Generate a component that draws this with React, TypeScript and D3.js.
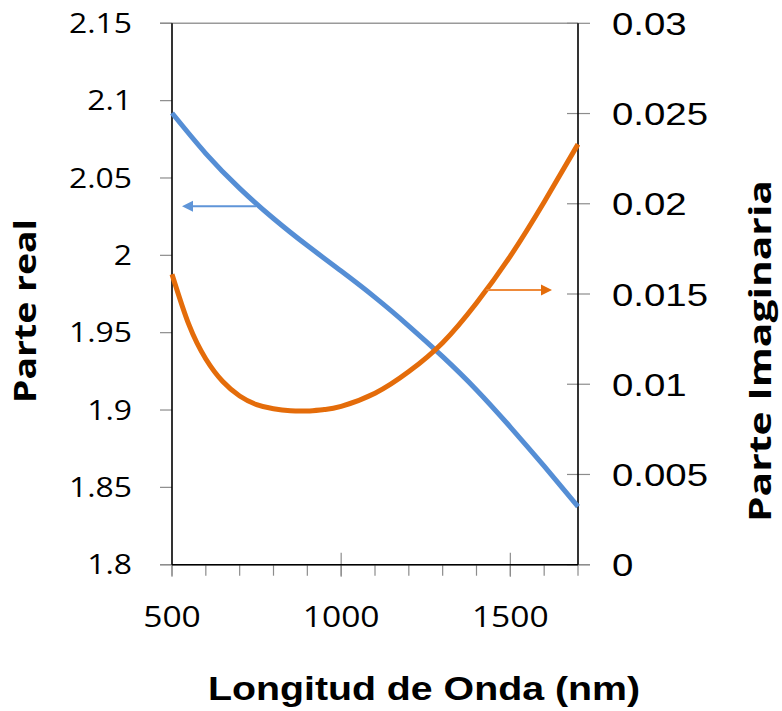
import React from "react";
import * as d3 from "d3";

const realWavelengths = [500, 600, 700, 800, 900, 1000, 1100, 1200, 1300, 1400, 1500, 1600, 1700];
const realValues = [2.092, 2.0658, 2.0433, 2.0238, 2.0063, 1.9898, 1.9728, 1.9543, 1.9345, 1.913, 1.889, 1.8637, 1.8375];

const imagWavelengths = [500, 550, 600, 650, 700, 750, 800, 850, 900, 950, 1000, 1100, 1200, 1300, 1400, 1500, 1600, 1700];
const imagValues = [0.0161, 0.0133, 0.0114, 0.01015, 0.00935, 0.00887, 0.00864, 0.00853, 0.00852, 0.0086, 0.00877, 0.0095, 0.0107, 0.0123, 0.0145, 0.0171, 0.0201, 0.0233];

const leftTicks = [1.8, 1.85, 1.9, 1.95, 2, 2.05, 2.1, 2.15];
const leftTickLabels = ["1.8", "1.85", "1.9", "1.95", "2", "2.05", "2.1", "2.15"];
const rightTicks = [0, 0.005, 0.01, 0.015, 0.02, 0.025, 0.03];
const rightTickLabels = ["0", "0.005", "0.01", "0.015", "0.02", "0.025", "0.03"];
const xMajorTicks = [500, 1000, 1500];
const xMinorTicks = [500, 600, 700, 800, 900, 1000, 1100, 1200, 1300, 1400, 1500, 1600, 1700];

const xTitle = "Longitud de Onda (nm)";
const yLeftTitle = "Parte real";
const yRightTitle = "Parte Imaginaria";

const BLUE = "#558ED5";
const ORANGE = "#E46C0A";
const BLUE_ARROW = "#5F95D8";
const ORANGE_ARROW = "#EE8A3A";

export default function App() {
  const L = 172, R = 578, T = 23.3, B = 564.7;
  const x = d3.scaleLinear().domain([500, 1700]).range([L, R]);
  const yL = d3.scaleLinear().domain([1.8, 2.15]).range([B, T]);
  const yR = d3.scaleLinear().domain([0, 0.03]).range([B, T]);

  const realLine = d3
    .line<number>()
    .x((_, i) => x(realWavelengths[i]))
    .y((d) => yL(d))
    .curve(d3.curveNatural)(realValues) as string;
  const imagLine = d3
    .line<number>()
    .x((_, i) => x(imagWavelengths[i]))
    .y((d) => yR(d))
    .curve(d3.curveNatural)(imagValues) as string;

  const tickGray = "#8c8c8c";

  const bArrowY = yL(2.0318);
  const bArrowX1 = 256;
  const bArrowTip = 182;
  const oArrowY = yR(0.01522);
  const oArrowX1 = x(1429);
  const oArrowTip = 552;

  return (
    <svg width={782} height={711} style={{ position: "absolute", left: 0, top: 0 }}>
      <rect x={0} y={0} width={782} height={711} fill="#fff" />
      <line x1={160} x2={R} y1={T} y2={T} stroke="#9a9a9a" strokeWidth={1.5} />
      <line x1={160} x2={590} y1={B} y2={B} stroke="#9a9a9a" strokeWidth={1.5} />
      {leftTicks.map((t, i) => (
        <line key={"lt" + i} x1={160} x2={L} y1={yL(t)} y2={yL(t)} stroke={tickGray} strokeWidth={1.2} />
      ))}
      {rightTicks.map((t, i) => (
        <line key={"rt" + i} x1={567} x2={590} y1={yR(t)} y2={yR(t)} stroke={tickGray} strokeWidth={1.2} />
      ))}
      {xMinorTicks.map((t, i) => (
        <line key={"xm" + i} x1={x(t)} x2={x(t)} y1={B} y2={B + 11} stroke={tickGray} strokeWidth={1.2} />
      ))}
      {xMajorTicks.map((t, i) => (
        <line key={"xM" + i} x1={x(t)} x2={x(t)} y1={t === 500 ? B : B - 12} y2={B + 12} stroke={tickGray} strokeWidth={1.2} />
      ))}
      <line x1={L} x2={L} y1={T} y2={B} stroke="#000" strokeWidth={1.6} />
      <line x1={R} x2={R} y1={T} y2={B} stroke="#000" strokeWidth={1.6} />
      <line x1={L} x2={R} y1={B} y2={B} stroke="#000" strokeWidth={1.6} />

      <path d={realLine} fill="none" stroke={BLUE} strokeWidth={5} />
      <path d={imagLine} fill="none" stroke={ORANGE} strokeWidth={5} />

      <line x1={bArrowX1} x2={bArrowTip + 10} y1={bArrowY} y2={bArrowY} stroke={BLUE_ARROW} strokeWidth={2} />
      <path d={`M${bArrowTip},${bArrowY} L${bArrowTip + 11},${bArrowY - 5.5} L${bArrowTip + 11},${bArrowY + 5.5} Z`} fill={BLUE_ARROW} />
      <line x1={oArrowX1} x2={oArrowTip - 10} y1={oArrowY} y2={oArrowY} stroke={ORANGE_ARROW} strokeWidth={2} />
      <path d={`M${oArrowTip},${oArrowY} L${oArrowTip - 11},${oArrowY - 5.5} L${oArrowTip - 11},${oArrowY + 5.5} Z`} fill={ORANGE} />

      {leftTicks.map((t, i) => (
        <g key={"ll" + i} transform={`translate(132,${yL(t)}) scale(1.18,1)`}>
          <text textAnchor="end" dy="0.36em" fontFamily="'Open Sans', sans-serif" fontSize={27} fill="#000">
            {leftTickLabels[i]}
          </text>
        </g>
      ))}
      {rightTicks.map((t, i) => (
        <g key={"rl" + i} transform={`translate(612,${yR(t)}) scale(1.2,1)`}>
          <text textAnchor="start" dy="0.36em" fontFamily="'Liberation Sans', Arial, sans-serif" fontSize={32} fill="#000">
            {rightTickLabels[i]}
          </text>
        </g>
      ))}
      {xMajorTicks.map((t, i) => (
        <g key={"xl" + i} transform={`translate(${x(t)},627) scale(1.12,1)`}>
          <text textAnchor="middle" fontFamily="'Open Sans', sans-serif" fontSize={30} fill="#000">
            {String(t)}
          </text>
        </g>
      ))}
      <text
        x={424}
        y={700}
        textAnchor="middle"
        fontFamily="'Liberation Sans', Arial, sans-serif"
        fontWeight="bold"
        fontSize={33}
        textLength={432}
        lengthAdjust="spacingAndGlyphs"
        fill="#000"
      >
        {xTitle}
      </text>
      <text
        transform="translate(36,311) rotate(-90)"
        textAnchor="middle"
        fontFamily="'Open Sans', sans-serif"
        fontWeight="bold"
        fontSize={31}
        textLength={184}
        lengthAdjust="spacingAndGlyphs"
        fill="#000"
      >
        {yLeftTitle}
      </text>
      <text
        transform="translate(771,351) rotate(-90)"
        textAnchor="middle"
        fontFamily="'Open Sans', sans-serif"
        fontWeight="bold"
        fontSize={30}
        textLength={342}
        lengthAdjust="spacingAndGlyphs"
        fill="#000"
      >
        {yRightTitle}
      </text>
    </svg>
  );
}
